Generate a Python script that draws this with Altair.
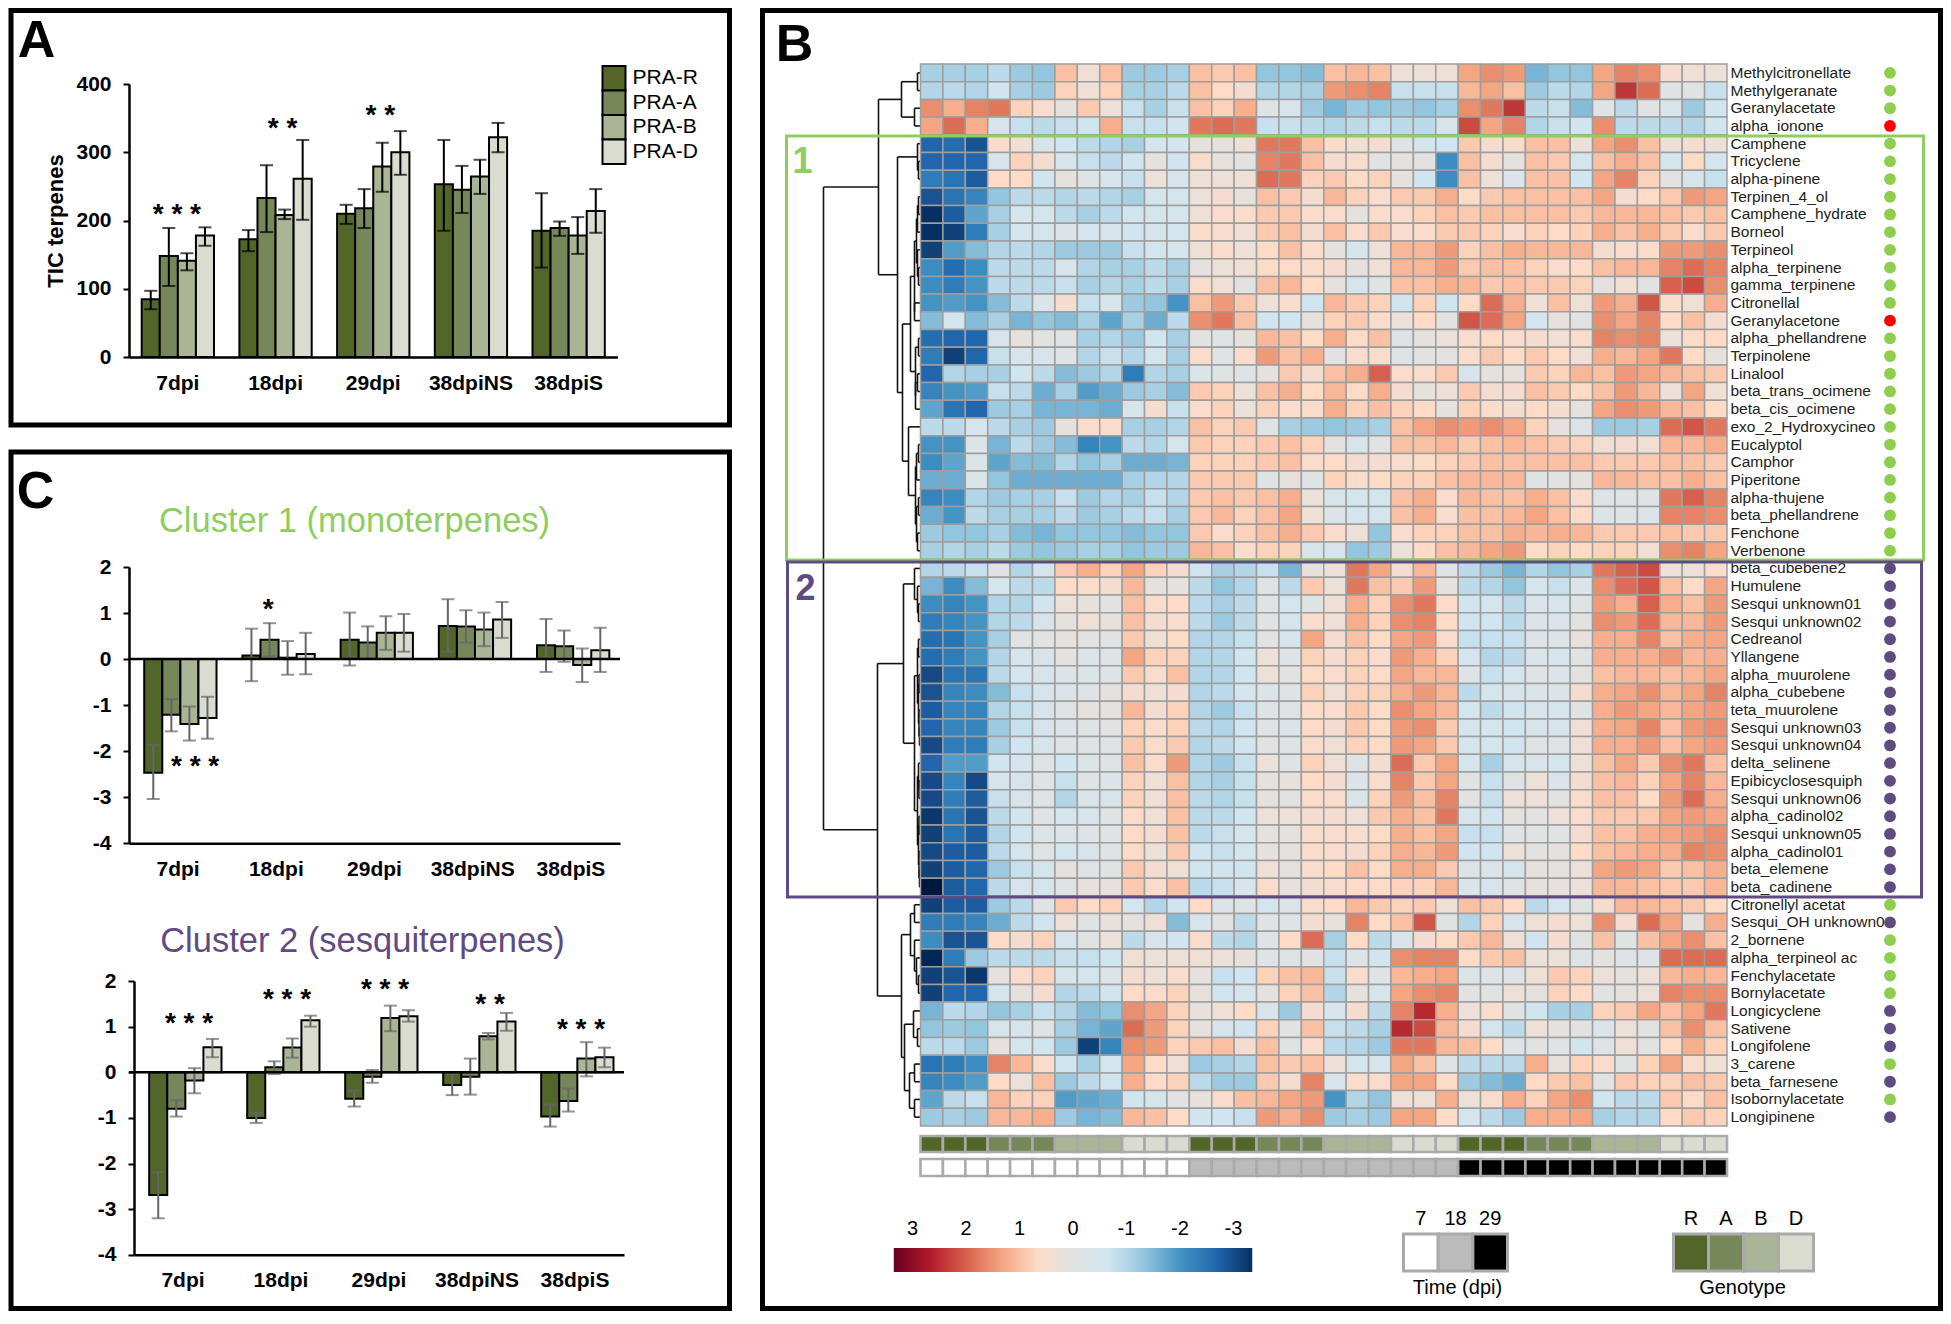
import altair as alt
import pandas as pd

FONT = "Liberation Sans"
groups = ["7dpi", "18dpi", "29dpi", "38dpiNS", "38dpiS"]
series = ["PRA-R", "PRA-A", "PRA-B", "PRA-D"]
series_colors = ["#53662a", "#76875a", "#aab596", "#dadccf"]

a_vals = [[84.6, 148, 141, 178], [172.6, 233, 208, 261], [210, 218, 279, 300], [253, 245, 264.5, 322], [185, 189, 178, 214]]
a_hi = [[97, 189, 152, 190], [186, 281, 216, 318], [223, 246, 314, 331], [318, 280, 289, 343], [240, 198.5, 205, 246]]
a_lo = [[70, 104, 127, 163], [155, 183, 202, 201], [195, 189, 242, 267], [185, 211, 239, 300], [131, 177.5, 151, 182]]

c1_vals = [[-2.47, -1.21, -1.41, -1.28], [0.08, 0.42, 0.03, 0.11], [0.42, 0.36, 0.57, 0.57], [0.72, 0.71, 0.64, 0.86], [0.3, 0.28, -0.13, 0.19]]
c1_hi = [[-1.87, -0.87, -1.03, -0.82], [0.66, 0.78, 0.39, 0.57], [1.01, 0.71, 0.93, 0.98], [1.3, 1.06, 1.01, 1.24], [0.87, 0.62, 0.23, 0.68]]
c1_lo = [[-3.04, -1.57, -1.77, -1.73], [-0.48, 0.06, -0.34, -0.33], [-0.14, 0.02, 0.2, 0.16], [0.16, 0.36, 0.28, 0.46], [-0.28, -0.06, -0.5, -0.28]]

c2_vals = [[-2.69, -0.8, -0.18, 0.55], [-1.0, 0.11, 0.54, 1.14], [-0.58, -0.1, 1.19, 1.23], [-0.28, -0.1, 0.79, 1.11], [-0.97, -0.63, 0.3, 0.33]]
c2_hi = [[-2.19, -0.61, 0.09, 0.73], [-0.89, 0.24, 0.74, 1.24], [-0.4, 0.05, 1.46, 1.36], [-0.04, 0.3, 0.86, 1.3], [-0.71, -0.36, 0.66, 0.54]]
c2_lo = [[-3.2, -0.97, -0.46, 0.33], [-1.11, -0.04, 0.32, 1.0], [-0.75, -0.23, 0.9, 1.11], [-0.5, -0.49, 0.72, 0.91], [-1.19, -0.86, -0.09, 0.11]]

a_stars = [("7dpi", 220, "* * *", -1), ("18dpi", 346, "* *", 7), ("29dpi", 365, "* *", 7)]
c1_stars = [("7dpi", -2.17, "* * *", 17), ("18dpi", 1.23, "*", -8)]
c2_stars = [("7dpi", 1.24, "* * *", 6), ("18dpi", 1.75, "* * *", 6), ("29dpi", 1.97, "* * *", 6),
            ("38dpiNS", 1.64, "* *", 13), ("38dpiS", 1.1, "* * *", 6)]

compounds = ["Methylcitronellate", "Methylgeranate", "Geranylacetate", "alpha_ionone", "Camphene", "Tricyclene",
             "alpha-pinene", "Terpinen_4_ol", "Camphene_hydrate", "Borneol", "Terpineol", "alpha_terpinene",
             "gamma_terpinene", "Citronellal", "Geranylacetone", "alpha_phellandrene", "Terpinolene", "Linalool",
             "beta_trans_ocimene", "beta_cis_ocimene", "exo_2_Hydroxycineo", "Eucalyptol", "Camphor", "Piperitone",
             "alpha-thujene", "beta_phellandrene", "Fenchone", "Verbenone", "beta_cubebene2", "Humulene",
             "Sesqui unknown01", "Sesqui unknown02", "Cedreanol", "Yllangene", "alpha_muurolene", "alpha_cubebene",
             "teta_muurolene", "Sesqui unknown03", "Sesqui unknown04", "delta_selinene", "Epibicyclosesquiph",
             "Sesqui unknown06", "alpha_cadinol02", "Sesqui unknown05", "alpha_cadinol01", "beta_elemene",
             "beta_cadinene", "Citronellyl acetat", "Sesqui_OH unknown0", "2_bornene", "alpha_terpineol ac",
             "Fenchylacetate", "Bornylacetate", "Longicyclene", "Sativene", "Longifolene", "3_carene",
             "beta_farnesene", "Isobornylacetate", "Longipinene"]
dot_class = list("gggr" + "g" * 10 + "r" + "g" * 13 + "p" * 19 + "gp" + "gggg" + "ppp" + "gpgp")

heat_tenths = [
 [-10,-10,-10,-8,-11,-12,9,3,9,-11,-11,-10,9,8,9,-12,-12,-13,9,10,9,2,2,3,12,14,13,-14,-12,-12,12,15,14,4,3,2],
 [-9,-8,-9,-6,-10,-11,7,3,7,-10,-10,-8,9,6,4,-9,-9,-10,13,14,15,-7,-7,-7,10,12,9,-11,-8,-9,12,22,17,-1,-1,-7],
 [14,11,15,16,7,5,1,8,2,-7,-10,-7,9,7,11,-1,-4,-11,-14,-11,-12,-11,-12,-10,14,16,22,-8,-7,-13,-1,-8,0,-4,-11,-6],
 [12,17,11,-4,-7,-8,-7,-6,11,-7,-7,-6,16,17,16,-7,-7,-8,-9,-8,-7,-8,-8,-4,20,12,15,-9,-7,-6,14,-8,-8,-8,-9,-6],
 [-24,-23,-26,5,3,-4,-6,-8,-9,-10,-5,-5,1,1,3,16,16,9,5,3,4,-1,-5,-6,8,4,5,9,9,2,12,14,9,2,4,2],
 [-24,-24,-24,-4,7,4,-4,-7,-8,-6,1,-6,5,1,0,15,16,9,4,5,0,1,0,-19,9,4,1,9,8,-5,9,11,9,-5,6,-5],
 [-21,-22,-25,6,6,-6,1,-1,-5,-7,2,-4,3,2,3,17,16,7,8,6,7,1,-6,-19,9,2,-3,9,9,-6,12,15,7,0,-4,-7],
 [-26,-22,-20,-12,-8,-8,-9,-8,-9,-10,-5,-5,2,4,1,9,8,4,10,7,5,8,8,11,6,8,9,9,9,9,12,4,6,8,13,12],
 [-30,-25,-16,-10,-5,-5,-8,-10,-8,-6,-5,-5,3,5,5,8,8,5,5,1,5,5,7,9,8,9,9,9,9,8,10,10,10,9,8,9],
 [-30,-28,-21,-10,-5,-5,-2,-5,-4,-6,-4,-5,5,5,3,8,9,4,9,5,8,5,5,8,8,7,5,7,6,7,11,9,11,8,5,8],
 [-28,-17,-13,-9,-8,-9,-11,-11,-11,-7,-5,-5,3,5,2,6,9,5,1,-5,2,10,10,13,7,9,11,10,10,10,4,5,5,13,13,14],
 [-19,-23,-19,-8,-8,-8,-4,-9,-10,-10,-8,-10,1,2,3,6,6,5,4,1,3,10,10,13,8,9,9,7,5,6,9,10,10,15,17,15],
 [-19,-21,-18,-8,-8,-8,-7,-10,-9,-10,-8,-10,5,3,0,9,10,6,1,-5,-2,9,9,11,10,8,9,8,8,7,1,3,0,18,20,14],
 [-18,-17,-18,-13,-8,-3,4,-7,-4,-11,-12,-18,9,13,8,2,5,-6,10,8,7,-6,7,-6,6,17,11,3,9,3,13,11,19,5,3,11],
 [-13,-5,-13,-10,-14,-12,-13,-10,-16,-10,-15,-8,14,16,9,-6,-6,1,7,8,5,2,6,0,19,17,12,-5,1,0,14,12,15,6,9,4],
 [-23,-24,-24,-4,1,0,-1,-10,-9,-11,-6,-10,0,-1,1,10,9,6,11,6,9,-2,1,2,5,6,5,4,3,5,15,14,15,2,6,6],
 [-21,-28,-24,-7,-4,-4,-1,-9,-7,-9,-5,-10,5,-1,5,13,9,11,0,5,5,-2,0,0,5,8,6,8,6,3,11,10,12,16,6,1],
 [-24,-9,-10,-10,-6,-8,-13,-11,-9,-21,-9,-10,-3,-1,-2,1,8,4,9,11,18,5,5,8,-4,1,1,8,7,10,9,13,12,10,9,8],
 [-20,-18,-17,-7,-8,-15,-10,-17,-15,-11,-10,-13,8,7,2,9,11,6,10,6,11,4,1,2,8,4,4,9,8,6,9,13,10,2,12,3],
 [-16,-22,-24,-11,-10,-14,-14,-14,-15,-4,4,-7,5,7,2,7,5,5,11,7,9,7,6,1,7,5,4,6,4,1,12,14,13,10,9,6],
 [-8,-8,-4,-8,-10,-11,1,5,5,-10,-10,-9,9,7,8,-1,-10,-11,-12,-11,-10,9,12,14,13,14,12,7,1,-2,-11,-11,-10,17,19,16],
 [-18,-18,-3,-14,-8,-11,-13,-20,-18,-8,-9,-5,8,7,7,8,9,7,1,-4,0,9,9,10,8,9,10,9,8,7,3,4,3,10,10,11],
 [-19,-16,-3,-16,-13,-13,-9,-12,-10,-15,-15,-14,7,7,7,8,9,5,6,4,4,5,6,7,8,9,9,9,9,9,8,8,8,9,9,8],
 [-15,-15,-3,-12,-15,-15,-15,-15,-15,-10,-9,-9,8,8,8,-1,1,-1,7,5,6,7,7,9,10,10,10,-1,0,1,10,10,9,9,11,9],
 [-20,-19,-9,-11,-10,-10,-7,-11,-9,-10,-7,-9,8,9,8,9,11,2,-4,-5,-5,9,11,5,10,9,9,11,9,5,-2,-2,-1,16,18,15],
 [-15,-18,-8,-10,-10,-10,-8,-11,-10,-8,-7,-10,8,10,7,9,12,3,-3,-5,-5,9,11,5,9,9,10,12,9,6,-3,-1,-3,15,15,14],
 [-11,-12,-12,-10,-13,-14,-12,-12,-12,-13,-12,-12,8,5,7,9,11,8,5,2,-12,5,7,7,9,9,11,10,11,10,8,8,8,9,8,8],
 [-10,-9,-10,-8,-11,-12,-11,-10,-10,-12,-11,-11,10,9,5,7,7,-4,-4,-12,-11,2,6,9,10,12,13,6,7,6,7,7,3,14,15,12],
 [-9,-8,-7,0,-9,-5,8,11,7,12,7,4,-6,-10,-9,-7,-14,1,2,16,12,4,10,-1,-8,-11,-14,-9,-12,-10,16,18,20,2,2,5],
 [-14,-19,-13,-5,-8,-8,6,5,4,10,1,1,-8,-12,-9,-1,-8,8,2,16,9,8,13,1,-8,-9,-12,-5,-7,-3,14,17,19,9,6,12],
 [-19,-20,-18,-9,-9,-6,2,1,0,9,5,6,-8,-10,-8,-1,-5,-1,3,11,7,14,16,6,-6,-5,-8,-3,-4,-1,13,11,18,11,9,13],
 [-21,-20,-18,-9,-8,-4,1,3,1,9,4,5,-8,-11,-8,-1,-5,5,3,11,7,14,15,6,-6,-6,-8,-3,-3,0,14,13,17,10,10,13],
 [-23,-22,-18,-10,-1,0,1,0,0,8,3,6,-9,-9,-7,0,-4,12,4,9,6,12,13,5,-7,-7,-7,-2,-2,1,11,11,15,9,11,12],
 [-23,-21,-18,-9,-5,-4,1,-3,-2,12,7,7,-9,-9,-6,2,-2,7,4,7,5,13,11,7,-5,-9,-8,-3,-5,-1,11,11,11,13,10,11],
 [-27,-22,-22,-8,-5,-4,-2,-3,-2,8,5,9,-9,-9,-6,2,0,6,5,7,6,12,10,10,-2,-7,-5,-1,-3,0,9,10,10,9,10,12],
 [-26,-20,-19,-13,-7,-4,-3,-2,1,4,3,4,-9,-8,-5,-3,-2,7,3,7,7,11,13,10,-8,-5,-4,-3,-2,4,11,12,14,10,12,15],
 [-25,-20,-20,-9,-7,-4,-1,1,1,10,4,7,-9,-11,-7,-1,-1,6,5,8,6,14,12,10,-5,-8,-6,-4,-5,-1,11,13,12,10,12,13],
 [-24,-20,-20,-11,-7,-4,-2,-1,0,7,5,7,-8,-9,-6,-1,-2,6,4,8,6,13,14,8,-5,-5,-6,-4,-4,3,11,12,15,9,13,14],
 [-27,-21,-21,-10,-6,-4,-2,-1,-1,8,5,8,-9,-8,-6,0,-1,5,3,7,6,13,12,8,-5,-5,-6,-1,-2,3,11,11,13,9,12,13],
 [-24,-17,-17,-6,-5,-2,-6,-3,-2,9,5,13,-9,-11,-7,2,-2,7,3,-1,4,17,8,12,-5,-10,-4,-3,-5,2,9,12,8,14,16,9],
 [-27,-20,-27,-4,-4,-2,-7,-1,-3,7,3,9,-9,-10,-7,1,1,6,4,-3,5,15,8,12,-1,-7,-1,2,-3,4,9,10,7,12,15,10],
 [-27,-21,-25,-7,-4,-2,-9,-3,-4,7,3,9,-8,-9,-7,1,0,5,5,-3,7,13,9,15,0,-7,2,2,0,5,9,9,6,13,17,11],
 [-29,-22,-26,-8,-6,-1,-5,-4,-1,6,3,9,-8,-8,-6,2,2,4,4,2,8,11,9,16,-4,-6,1,0,2,5,8,8,8,12,13,12],
 [-28,-22,-25,-9,-6,-3,-3,-2,-1,6,4,9,-8,-7,-5,1,1,5,5,5,6,11,9,12,-7,-7,-1,-1,-1,4,9,9,11,12,13,14],
 [-27,-25,-25,-8,-5,-1,-5,-4,-1,6,2,8,-6,-7,-5,1,1,5,5,4,7,11,10,13,-6,-6,2,0,1,6,9,10,11,11,15,14],
 [-28,-25,-24,-11,-7,-5,1,-2,-1,8,4,3,-6,-6,-6,3,1,5,6,9,6,11,11,8,-2,-3,-5,1,1,2,12,13,12,8,9,11],
 [-33,-25,-24,-8,-4,-5,-1,1,1,8,5,9,-8,-7,-4,5,1,4,5,6,6,7,7,10,-3,-4,-1,1,1,2,10,10,9,8,8,10],
 [-28,-25,-25,-11,-8,-1,8,6,7,-5,-9,-6,6,-3,-2,-5,-2,5,6,10,8,7,8,3,9,8,6,-8,-5,-1,4,10,10,9,8,6],
 [-21,-21,-20,-15,-8,-6,2,-1,1,1,3,-13,-4,0,-8,-1,-2,4,1,15,6,9,19,-1,-9,7,-4,3,4,2,14,4,17,12,1,11],
 [-19,-26,-26,6,4,7,-4,-1,2,-8,-4,-6,5,-8,-9,-2,6,17,-10,6,-8,-3,4,6,8,10,3,-6,4,-1,9,-1,9,12,14,9],
 [-31,-21,-11,-8,-8,-8,-7,-7,-6,3,2,2,3,2,1,-2,-1,0,-7,-2,-6,14,15,15,6,8,9,2,2,-2,1,-2,-2,17,17,17],
 [-28,-26,-29,1,5,7,-4,-5,-3,4,2,5,1,-7,-6,7,9,10,-7,5,-2,10,11,12,-3,-2,-2,3,8,7,2,1,2,10,11,10],
 [-28,-24,-24,-5,1,4,-9,-8,-6,6,5,7,1,-6,-5,1,7,9,-9,1,-5,12,14,15,0,0,2,1,7,6,0,1,2,15,14,14],
 [-14,-8,-9,-12,-10,-7,-9,-13,-12,14,12,7,1,3,6,-4,-11,4,-4,4,-8,15,23,11,2,5,-1,-6,-10,-10,7,8,12,9,12,16],
 [-12,-11,-12,-4,-4,-1,-10,-14,-16,17,13,7,1,-4,-6,7,0,9,-7,-8,-10,23,20,10,4,-5,-8,2,1,0,-3,2,0,9,14,9],
 [-8,-8,-11,1,-5,-6,-11,-28,-20,14,13,7,8,9,4,9,-1,5,-8,-9,-11,16,16,10,9,6,-2,0,-2,-6,-2,3,0,6,11,7],
 [-22,-21,-19,15,10,5,-6,-10,-5,12,6,3,-11,-10,-9,9,8,9,2,-5,-4,12,9,-1,-8,-8,-8,11,1,7,5,-1,7,12,5,3],
 [-20,-19,-17,6,2,9,-11,-8,-6,11,6,7,-8,-11,-11,8,4,15,-4,5,5,12,12,6,-11,-13,-15,6,8,9,0,8,7,7,9,8],
 [-16,-8,-7,10,7,7,-17,-16,-15,-6,-5,0,1,5,9,10,12,13,-18,-9,-12,3,3,11,2,5,11,7,12,14,-6,-8,-8,8,6,9],
 [-11,-10,-11,10,10,11,-11,-14,-13,10,9,6,-6,-6,-7,13,11,14,-11,-10,-11,12,12,6,-5,-8,-11,11,11,12,-10,-9,-9,6,8,7],
]
assert len(heat_tenths) == len(compounds) == len(dot_class)
assert all(len(r) == 36 for r in heat_tenths)

heat_domain = [3, 2.4, 1.8, 1.2, 0.6, 0, -0.6, -1.2, -1.8, -2.4, -3]
heat_palette = ["#67001f", "#b2182b", "#d6604d", "#f4a582", "#fddbc7", "#e2e2e2", "#d1e5f0", "#92c5de", "#4393c3", "#2166ac", "#053061"]
bar_labels = ["3", "2", "1", "0", "-1", "-2", "-3"]
bar_values = [3, 2, 1, 0, -1, -2, -3]
time_levels = ["7", "18", "29"]
time_colors = ["#ffffff", "#bbbbbb", "#000000"]
geno_levels = ["R", "A", "B", "D"]
dot_colors = {"g": "#8fcd4e", "r": "#ff0000", "p": "#5f4b82"}
GREEN, PURPLE = "#8fcd5e", "#5f4b82"

# dendrogram: (merge height, left child, right child); integers are row numbers
top4 = (19, (3, 0, 1), (6, 2, 3))
c1_a = (3, 4, (2, 5, 6))
c1_b = (10, (6, (4, (3, (2, 7, 8), 9), (3, 10, (2, 11, 12))), (6, 13, 14)), (5, (2, 15, 16), (5, (3, 17, 18), 19)))
c1_c = (12, 20, (5, (4, (2, 21, 22), 23), (4, (2, 24, 25), (3, 26, 27))))
c1_tree = (23, c1_a, (18, c1_b, c1_c))
c2_a = (6, 28, (3, 29, (2, 30, 31)))
c2_b = (6, (3, (2, 32, 33), (2, (1.5, 34, 35), (1.5, 36, (1, 37, 38)))),
        (3, (2, 39, (1.5, 40, 41)), (2, (1.5, 42, 43), (1.5, 44, (1, 45, 46)))))
low_tree = (19, (10, (6, 47, 48), (6, 49, (4, 50, (2, 51, 52)))),
            (16, (7, 53, (3, 54, 55)), (11, (6, 56, 57), (6, 58, 59))))
root_tree = (97, (42, top4, c1_tree), (43, (17, c2_a, c2_b), low_tree))


def flatten_tree(node, out):
    if isinstance(node, int):
        return 0.0, node + 0.5
    h, a, b = node
    ha, ya = flatten_tree(a, out)
    hb, yb = flatten_tree(b, out)
    out.append(dict(x=h, x2=h, y=ya, y2=yb))
    out.append(dict(x=h, x2=ha, y=ya, y2=ya))
    out.append(dict(x=h, x2=hb, y=yb, y2=yb))
    return h, (ya + yb) / 2


segs = []
flatten_tree(root_tree, segs)
seg_df = pd.DataFrame(segs)

# page position of the origin shared by the overlay panel
OX, OY = 128.5, 64
px = lambda v: v - OX
py = lambda v: v - OY
one = pd.DataFrame({"k": [0]})


def box(x0, y0, x1, y1, color, width):
    return alt.Chart(one).mark_rect(fill="transparent", stroke=color, strokeWidth=width).encode(
        x=alt.value(px(x0)), x2=alt.value(px(x1)), y=alt.value(py(y0)), y2=alt.value(py(y1)))


def note(text, x, y, size, color="black", weight="normal", align="center"):
    return alt.Chart(one).mark_text(text=text, font=FONT, fontSize=size, color=color, fontWeight=weight,
                                    align=align, baseline="middle").encode(
        x=alt.value(px(x)), y=alt.value(py(y)))


HX0, HX1, HY0, HY1 = 920, 1726.5, 64, 1126
cols = [str(i) for i in range(36)]
xs = alt.Scale(type="band", domain=cols, range=[px(HX0), px(HX1)], paddingInner=0, paddingOuter=0)
ys = alt.Scale(type="band", domain=compounds, range=[py(HY0), py(HY1)], paddingInner=0, paddingOuter=0)

heat_df = pd.DataFrame([{"col": str(j), "name": compounds[i], "v": heat_tenths[i][j] / 10}
                        for i in range(60) for j in range(36)])
heat = alt.Chart(heat_df).mark_rect(stroke="#9e9e9e", strokeWidth=1.5).encode(
    x=alt.X("col:N", scale=xs, axis=None, sort=cols),
    y=alt.Y("name:N", scale=ys, axis=None, sort=compounds),
    color=alt.Color("v:Q", scale=alt.Scale(domain=heat_domain, range=heat_palette), legend=None))

labels_df = pd.DataFrame({"name": compounds, "cls": dot_class})
row_labels = alt.Chart(labels_df).mark_text(font=FONT, fontSize=15.5, align="left", baseline="middle", color="#222222").encode(
    x=alt.value(px(1730)), y=alt.Y("name:N", scale=ys, axis=None, sort=compounds), text="name:N")
row_dots = alt.Chart(labels_df).mark_circle(size=140, opacity=1).encode(
    x=alt.value(px(1889.5)), y=alt.Y("name:N", scale=ys, axis=None, sort=compounds),
    color=alt.Color("cls:N", scale=alt.Scale(domain=list(dot_colors), range=list(dot_colors.values())), legend=None))

dendro = alt.Chart(seg_df).mark_rule(color="#111111", strokeWidth=1.6).encode(
    x=alt.X("x:Q", scale=alt.Scale(domain=[100, 0], range=[px(820), px(920)]), axis=None), x2="x2:Q",
    y=alt.Y("y:Q", scale=alt.Scale(domain=[0, 60], range=[py(HY0), py(HY1)]), axis=None), y2="y2:Q")

strip_df = pd.DataFrame({"col": cols,
                         "geno": [geno_levels[(j // 3) % 4] for j in range(36)],
                         "time": [time_levels[j // 12] for j in range(36)]})
geno_strip = alt.Chart(strip_df).mark_rect(stroke="#aaaaaa", strokeWidth=2.6).encode(
    x=alt.X("col:N", scale=xs, axis=None, sort=cols), y=alt.value(py(1136)), y2=alt.value(py(1152)),
    color=alt.Color("geno:N", scale=alt.Scale(domain=geno_levels, range=series_colors), legend=None))
time_strip = alt.Chart(strip_df).mark_rect(stroke="#aaaaaa", strokeWidth=2.6).encode(
    x=alt.X("col:N", scale=xs, axis=None, sort=cols), y=alt.value(py(1159)), y2=alt.value(py(1176)),
    color=alt.Color("time:N", scale=alt.Scale(domain=time_levels, range=time_colors), legend=None))

bar_scale = alt.Scale(domain=[3, -3], range=[px(912), px(1233)])
cbar = alt.Chart(pd.DataFrame({"a": [3.35], "b": [-3.35]})).mark_rect(
    color=alt.Gradient(gradient="linear", x1=0, x2=1, y1=0, y2=0,
                       stops=[alt.GradientStop(color=c, offset=i / 10) for i, c in enumerate(heat_palette)])).encode(
    x=alt.X("a:Q", scale=bar_scale, axis=None), x2="b:Q", y=alt.value(py(1248)), y2=alt.value(py(1272)))
cbar_text = alt.Chart(pd.DataFrame({"v": bar_values, "t": bar_labels})).mark_text(font=FONT, fontSize=20, baseline="middle", color="black").encode(
    x=alt.X("v:Q", scale=bar_scale, axis=None), y=alt.value(py(1229)), text="t:N")


def key_legend(levels, colors, x0, x1):
    sc = alt.Scale(type="band", domain=levels, range=[px(x0), px(x1)], paddingInner=0, paddingOuter=0)
    df = pd.DataFrame({"lv": levels})
    rects = alt.Chart(df).mark_rect(stroke="#aaaaaa", strokeWidth=3).encode(
        x=alt.X("lv:N", scale=sc, axis=None, sort=levels), y=alt.value(py(1234)), y2=alt.value(py(1271)),
        color=alt.Color("lv:N", scale=alt.Scale(domain=levels, range=colors), legend=None))
    text = alt.Chart(df).mark_text(font=FONT, fontSize=20, baseline="middle", color="black").encode(
        x=alt.X("lv:N", scale=sc, axis=None, sort=levels), y=alt.value(py(1219)), text="lv:N")
    return [rects, text]


def series_legend():
    sc = alt.Scale(type="band", domain=series, range=[py(66), py(164)], paddingInner=0, paddingOuter=0)
    df = pd.DataFrame({"lv": series})
    rects = alt.Chart(df).mark_rect(stroke="black", strokeWidth=2).encode(
        x=alt.value(px(602)), x2=alt.value(px(625)), y=alt.Y("lv:N", scale=sc, axis=None, sort=series),
        color=alt.Color("lv:N", scale=alt.Scale(domain=series, range=series_colors), legend=None))
    text = alt.Chart(df).mark_text(font=FONT, fontSize=21, align="left", baseline="middle", color="black").encode(
        x=alt.value(px(632)), y=alt.Y("lv:N", scale=sc, axis=None, sort=series), text="lv:N")
    return [rects, text]


overlay_layers = [
    box(10.5, 10.5, 729, 425, "black", 5),
    box(10.5, 452, 729, 1308.5, "black", 5),
    box(762, 10.5, 1940, 1308.5, "black", 5),
    dendro, heat, geno_strip, time_strip, row_labels, row_dots,
    box(786, 136, 1923, 560, GREEN, 3),
    box(787, 562, 1921, 897, PURPLE, 3),
    note("1", 802, 162, 36, GREEN, "bold"),
    note("2", 805, 589, 36, PURPLE, "bold"),
    cbar, cbar_text,
    *key_legend(time_levels, time_colors, 1403, 1507),
    *key_legend(geno_levels, series_colors, 1673, 1813),
    *series_legend(),
    note("Time (dpi)", 1457, 1288, 20),
    note("Genotype", 1742, 1288, 20),
    note("A", 36, 41, 52, "black", "bold"),
    note("B", 794, 45, 52, "black", "bold"),
    note("C", 35, 492, 52, "black", "bold"),
    note("Cluster 1 (monoterpenes)", 354, 522, 34.5, GREEN),
    note("Cluster 2 (sesquiterpenes)", 362, 942, 34.5, PURPLE),
]
overlay = alt.layer(*overlay_layers).resolve_scale(x="independent", y="independent", color="independent").properties(width=488.5, height=20)


def bar_panel(vals, hi, lo, stars, width, height, domain, ticks, err_color, pad, title=None, shift=0):
    df = pd.DataFrame([{"g": g, "s": s, "v": vals[i][j], "hi": hi[i][j], "lo": lo[i][j]}
                       for i, g in enumerate(groups) for j, s in enumerate(series)])
    x_args = dict(type="band", domain=groups, paddingInner=pad, paddingOuter=pad / 2)
    if shift:
        x_args["range"] = [shift, shift + width]
    x = alt.X("g:N", sort=groups, title=None, scale=alt.Scale(**x_args),
              axis=alt.Axis(labelAngle=0, ticks=False, labelFont=FONT, labelFontWeight="bold", labelFontSize=21,
                            labelColor="black", labelPadding=15, domainColor="black", domainWidth=2.5, grid=False))
    y = alt.Y("v:Q", title=title, scale=alt.Scale(domain=domain, nice=False),
              axis=alt.Axis(values=ticks, labelExpr="'' + datum.value", labelFont=FONT, labelFontWeight="bold", labelFontSize=21,
                            labelColor="black", labelPadding=12, domainColor="black", domainWidth=2.5, tickColor="black",
                            tickWidth=2, tickSize=6, grid=False, titleFont=FONT, titleFontSize=22, titleFontWeight="bold",
                            titleColor="black", titlePadding=8, **({"offset": -shift} if shift else {})))
    off = alt.XOffset("s:N", sort=series, scale=alt.Scale(domain=series, paddingInner=0, paddingOuter=0))
    bars = alt.Chart(df).mark_bar(stroke="black", strokeWidth=2).encode(
        x=x, y=y, xOffset=off,
        color=alt.Color("s:N", sort=series, scale=alt.Scale(domain=series, range=series_colors), legend=None))
    rule = alt.Chart(df).mark_rule(color=err_color, strokeWidth=2).encode(
        x=x, xOffset=off, y=alt.Y("hi:Q"), y2="lo:Q")
    cap_hi = alt.Chart(df).mark_tick(orient="horizontal", size=13, thickness=2, color=err_color).encode(x=x, xOffset=off, y=alt.Y("hi:Q"))
    cap_lo = alt.Chart(df).mark_tick(orient="horizontal", size=13, thickness=2, color=err_color).encode(x=x, xOffset=off, y=alt.Y("lo:Q"))
    layers = [bars, rule, cap_hi, cap_lo]
    if domain[0] < 0:
        layers.append(alt.Chart(pd.DataFrame({"v": [0]})).mark_rule(color="black", strokeWidth=2.5).encode(y=alt.Y("v:Q")))
    for g, yv, text, dx in stars:
        layers.append(alt.Chart(pd.DataFrame({"g": [g], "v": [yv]})).mark_text(
            text=text, font=FONT, fontWeight="bold", fontSize=28, dx=dx, dy=8, baseline="middle", color="black").encode(x=x, y=alt.Y("v:Q")))
    return alt.layer(*layers).properties(width=width + shift, height=height)


def gap(h):
    return alt.Chart(one).mark_point(opacity=0).encode(x=alt.value(0), y=alt.value(0)).properties(width=1, height=h)


panel_a = bar_panel(a_vals, a_hi, a_lo, a_stars, 488.5, 273, [0, 400], [0, 100, 200, 300, 400], "black", 0.26, title="TIC terpenes")
panel_c1 = bar_panel(c1_vals, c1_hi, c1_lo, c1_stars, 491, 276.2, [-4, 2], [-4, -3, -2, -1, 0, 1, 2], "#666666", 0.31)
panel_c2 = bar_panel(c2_vals, c2_hi, c2_lo, c2_stars, 490, 273.8, [-4, 2], [-4, -3, -2, -1, 0, 1, 2], "#666666", 0.31, shift=5)

chart = alt.vconcat(overlay, panel_a, gap(209.6), panel_c1, gap(136.2), panel_c2, spacing=0, bounds="flush").properties(
    padding=0, background="white").configure_view(strokeWidth=0)

chart.save("out.html", embed_options={"renderer": "svg", "actions": False})
